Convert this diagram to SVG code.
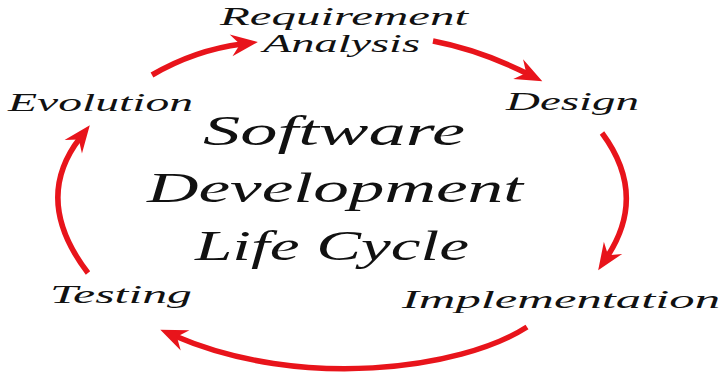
<svg xmlns="http://www.w3.org/2000/svg" width="723" height="373" viewBox="0 0 723 373">
  <style>
    .lbl { font-family: "Liberation Serif", "DejaVu Serif", serif; font-style: italic; fill: #111; }
    .stage { font-size: 25px; }
    .title { font-size: 42px; }
    .flow { fill: none; stroke: #e8141b; stroke-width: 5.5; stroke-linecap: butt; marker-end: url(#head); }
  </style>
  <defs>
    <!-- swept arrowhead; the path ends at the notch, the tip runs ahead of it -->
    <marker id="head" markerUnits="userSpaceOnUse" viewBox="-12 -12 32 24" refX="0" refY="0" markerWidth="32" markerHeight="24" orient="auto" overflow="visible">
      <path d="M16,0 L-11,-11 L-2,0 L-11,11 Z" fill="#e8141b"/>
    </marker>
  </defs>

  <rect width="723" height="373" fill="#ffffff"/>

  <g id="connectors">
    <path class="flow" d="M152,75 Q195,50 242,44"/>
    <path class="flow" d="M433,41 Q480,50 528,74"/>
    <path class="flow" d="M602,133 Q648,195 607,257"/>
    <path class="flow" d="M527,327 C460,370 300,390 175,336"/>
    <path class="flow" d="M88,273 Q32,200 80,138"/>
  </g>

  <g id="title">
    <text class="lbl title" x="203" y="145" textLength="262" lengthAdjust="spacingAndGlyphs">Software</text>
    <text class="lbl title" x="147" y="202" textLength="376" lengthAdjust="spacingAndGlyphs">Development</text>
    <text class="lbl title" x="195" y="260" textLength="274" lengthAdjust="spacingAndGlyphs">Life Cycle</text>
  </g>

  <g id="requirement-analysis">
    <text class="lbl stage" x="220" y="25" textLength="248" lengthAdjust="spacingAndGlyphs">Requirement</text>
    <text class="lbl stage" x="263" y="52" textLength="157" lengthAdjust="spacingAndGlyphs">Analysis</text>
  </g>
  <g id="design">
    <text class="lbl stage" x="506" y="110" textLength="133" lengthAdjust="spacingAndGlyphs">Design</text>
  </g>
  <g id="implementation">
    <text class="lbl stage" x="402" y="308" textLength="318" lengthAdjust="spacingAndGlyphs">Implementation</text>
  </g>
  <g id="testing">
    <text class="lbl stage" x="50" y="303" textLength="142" lengthAdjust="spacingAndGlyphs">Testing</text>
  </g>
  <g id="evolution">
    <text class="lbl stage" x="8" y="111" textLength="185" lengthAdjust="spacingAndGlyphs">Evolution</text>
  </g>
</svg>
